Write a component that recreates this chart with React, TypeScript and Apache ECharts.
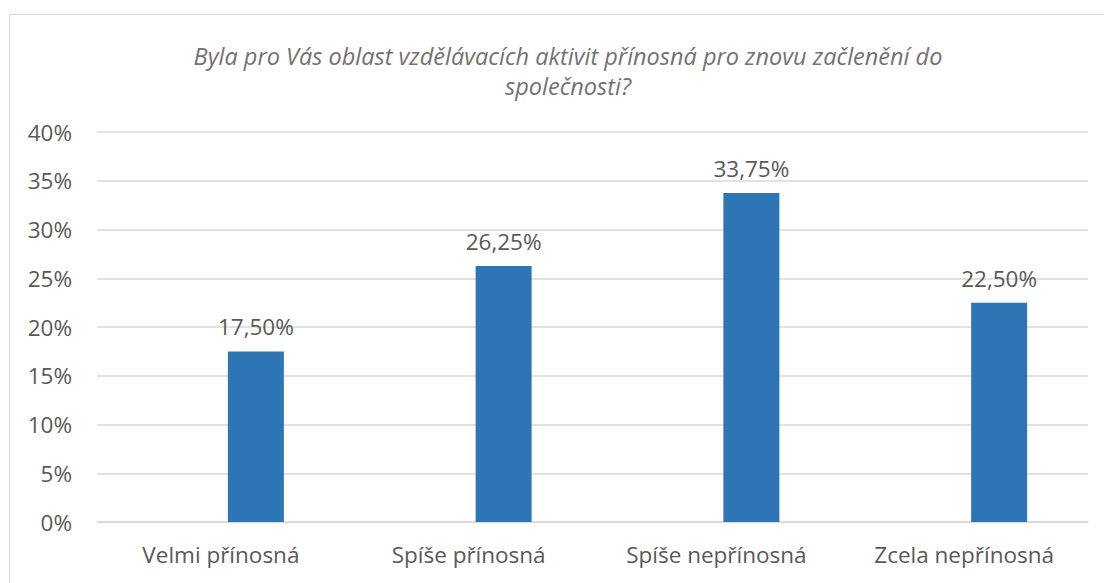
import React, { useEffect, useRef } from "react";
import * as echarts from "echarts";

const titleText = "Byla pro Vás oblast vzdělávacích aktivit přínosná pro znovu začlenění do\nspolečnosti?";
const categories = ["Velmi přínosná", "Spíše přínosná", "Spíše nepřínosná", "Zcela nepřínosná"];
const values = [17.5, 26.25, 33.75, 22.5];
const emptySeries = [null, null, null, null];
const yTicks = { min: 0, max: 40, interval: 5 };

const FONT = "'Open Sans', 'Noto Sans', sans-serif";
const TEXT = "#595959";

export default function App() {
  const ref = useRef<HTMLDivElement>(null);
  useEffect(() => {
    if (!ref.current) return;
    const chart = echarts.init(ref.current, undefined, { renderer: "svg" });
    chart.setOption({
      animation: false,
      textStyle: { fontFamily: FONT },
      title: {
        text: titleText,
        left: 563,
        textAlign: "center",
        top: 36,
        textStyle: {
          fontFamily: FONT,
          fontSize: 23.5,
          fontStyle: "italic",
          fontWeight: "normal",
          color: "#757171",
          lineHeight: 30,
        },
      },
      graphic: [
        {
          type: "rect",
          shape: { x: 9.5, y: 14.5, width: 1200, height: 700 },
          style: { fill: "none", stroke: "#d9d9d9", lineWidth: 1 },
          silent: true,
        },
      ],
      grid: { left: 97, right: 16, top: 132, bottom: 61, containLabel: false },
      xAxis: {
        type: "category",
        data: categories,
        axisTick: { show: false },
        axisLine: { lineStyle: { color: "#d9d9d9", width: 1.5 } },
        axisLabel: { color: TEXT, fontSize: 22.5, margin: 21, fontFamily: FONT },
      },
      yAxis: {
        type: "value",
        min: yTicks.min,
        max: yTicks.max,
        interval: yTicks.interval,
        axisLine: { show: false },
        axisTick: { show: false },
        splitLine: { lineStyle: { color: "#d9d9d9", width: 1.5 } },
        axisLabel: {
          color: TEXT,
          fontSize: 22.5,
          margin: 25,
          fontFamily: FONT,
          formatter: (v: number) => `${v}%`,
        },
      },
      series: [
        {
          type: "bar",
          data: emptySeries,
          barWidth: 56,
          barGap: "25%",
          silent: true,
        },
        {
          type: "bar",
          data: values,
          barWidth: 56,
          barGap: "25%",
          itemStyle: { color: "#2E75B6" },
          label: {
            show: true,
            position: "top",
            distance: 13,
            color: TEXT,
            fontSize: 22.5,
            fontFamily: FONT,
            formatter: (p: any) => `${p.value.toFixed(2).replace(".", ",")}%`,
          },
        },
      ],
    });
    return () => chart.dispose();
  }, []);
  return (
    <div
      ref={ref}
      style={{ position: "fixed", left: 0, top: 0, width: 1104, height: 583, background: "#fff" }}
    />
  );
}
